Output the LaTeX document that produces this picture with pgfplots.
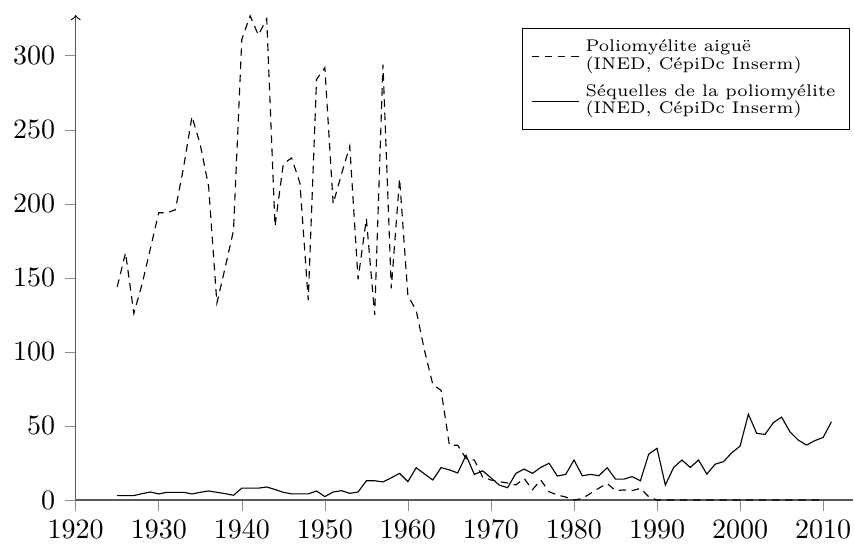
\documentclass[border=0pt]{standalone}
\usepackage{fontspec}
\usepackage{pgfplots}
\pgfplotsset{compat=1.18}

\begin{document}
\begin{tikzpicture}
\begin{axis}[
  scale only axis,
  width=277.6pt, height=173.2pt,
  xmin=1920, xmax=2013.6,
  ymin=0, ymax=327.5,
  clip=false,
  axis lines=left,
  axis line style={black!65},
  y axis line style={-{To[black]}},
  x axis line style={-},
  xtick={1920,1930,...,2010},
  ytick={0,50,...,300},
  tick align=outside,
  major tick length=3.8pt,
  tick style={black!45},
  xticklabel style={/pgf/number format/1000 sep={}},
  legend style={at={(0.9961,0.973)}, anchor=north east,
    font=\fontsize{6.05}{6.2}\selectfont,
    nodes={align=left}, draw=black},
  legend cell align=left,
]
% poliomyelite aigue
\addplot[black, dash pattern=on 2.7pt off 2pt] coordinates {
(1925,144) (1926,167) (1927,126) (1928,146) (1929,170) (1930,194)
(1931,194) (1932,196) (1933,225) (1934,259) (1935,240) (1936,212)
(1937,133) (1938,157) (1939,182) (1940,311) (1941,327) (1942,314)
(1943,325) (1944,185) (1945,227) (1946,231) (1947,214) (1948,135)
(1949,284) (1950,292) (1951,200) (1952,220) (1953,239) (1954,149)
(1955,190) (1956,125) (1957,294) (1958,143) (1959,217) (1960,138)
(1961,128) (1962,101) (1963,78) (1964,74) (1965,37) (1966,37)
(1967,28) (1968,27) (1969,15.5) (1970,13.5) (1971,12.4) (1972,11.5)
(1973,10.2) (1974,14.5) (1975,7) (1976,13.5) (1977,5.6) (1978,3.4)
(1979,2) (1980,0) (1981,1) (1982,4.5) (1983,8) (1984,11.2)
(1985,6.3) (1986,6.8) (1987,6.3) (1988,7.9) (1989,2.2) (1990,0)
(1991,0) (1992,0) (1993,0) (1994,0) (1995,0) (1996,0)
(1997,0) (1998,0) (1999,0) (2000,0) (2001,0) (2002,0)
(2003,0) (2004,0) (2005,0) (2006,0) (2007,0) (2008,0)
(2009,0) (2010,0)
};
\addlegendentry{Poliomyélite aiguë\\(INED, CépiDc Inserm)}
% sequelles
\addplot[black] coordinates {
(1925,3) (1926,3) (1927,3) (1928,4.3) (1929,5.4) (1930,4.1)
(1931,5.2) (1932,5.2) (1933,5.2) (1934,4.1) (1935,5.2) (1936,6.1)
(1937,5.2) (1938,4.3) (1939,3.2) (1940,8) (1941,8) (1942,8)
(1943,8.8) (1944,7.1) (1945,5.2) (1946,4.1) (1947,4.1) (1948,4.1)
(1949,6.1) (1950,2.3) (1951,5.4) (1952,6.3) (1953,4.5) (1954,5.4)
(1955,13) (1956,13) (1957,12.2) (1958,15) (1959,18) (1960,12.4)
(1961,21.8) (1962,17.6) (1963,13.5) (1964,21.9) (1965,20.3) (1966,18.3)
(1967,30.2) (1968,17.3) (1969,19.7) (1970,15) (1971,10.1) (1972,8.3)
(1973,18) (1974,20.9) (1975,18) (1976,22) (1977,24.8) (1978,16.2)
(1979,17.3) (1980,27) (1981,16.4) (1982,17.3) (1983,16.4) (1984,21.8)
(1985,14.1) (1986,14.1) (1987,15.8) (1988,13) (1989,31) (1990,34.9)
(1991,10.1) (1992,22) (1993,27) (1994,22) (1995,27) (1996,17.5)
(1997,24.2) (1998,25.9) (1999,31.9) (2000,36.4) (2001,58) (2002,45)
(2003,44.3) (2004,52.2) (2005,56) (2006,46.1) (2007,40.5) (2008,37.1)
(2009,40.1) (2010,42.2) (2011,52.8)
};
\addlegendentry{Séquelles de la poliomyélite\\(INED, CépiDc Inserm)}
\end{axis}
\pgfresetboundingbox
\path[use as bounding box]
  ([shift={(-27.04pt,-15.36pt)}]current axis.south west) rectangle
  ([shift={(277.96pt,178.57pt)}]current axis.south west);
\end{tikzpicture}
\end{document}
